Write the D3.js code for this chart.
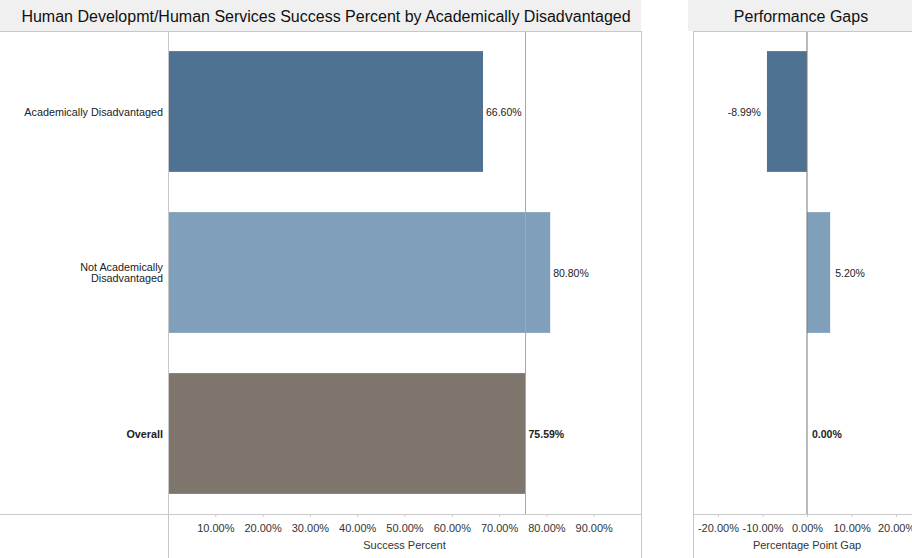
<!DOCTYPE html>
<html>
<head>
<meta charset="utf-8">
<script src="https://cdnjs.cloudflare.com/ajax/libs/d3/7.8.5/d3.min.js"></script>
<style>
  body { margin: 0; background: #fff; }
  svg { display: block; font-family: Arial, "Liberation Sans", sans-serif; }
</style>
</head>
<body>
<div id="chart"></div>
<script>
// data
var categories = ["Academically Disadvantaged", "Not Academically Disadvantaged", "Overall"];
var labelLines = [["Academically Disadvantaged"], ["Not Academically", "Disadvantaged"], ["Overall"]];
var successPct = [0.6660, 0.8080, 0.7559];
var gapPct = [-0.0899, 0.0520, 0.0];
var overallPct = 0.7559;
var successTicks = [0.1, 0.2, 0.3, 0.4, 0.5, 0.6, 0.7, 0.8, 0.9];
var gapTicks = [-0.2, -0.1, 0, 0.1, 0.2];
var barColors = ["#4f7192", "#7f9fba", "#7e756c"];

var W = 912, H = 558;
var plotTop = 31, plotBottom = 514;

var svg = d3.select("#chart").append("svg").attr("width", W).attr("height", H);

var locale = d3.formatLocale({ decimal: ".", thousands: ",", grouping: [3], currency: ["$", ""], minus: "-" });
var fmt = locale.format(".2%");

var y = d3.scaleBand().domain(categories).range([plotTop, plotBottom]).paddingInner(0.25).paddingOuter(0.125);

// ---- left panel ----
var L = { labelW: 168, x1: 641 };
var x = d3.scaleLinear().domain([0, 1]).range([L.labelW, L.x1]);

svg.append("rect").attr("x", 0).attr("y", 0).attr("width", L.x1).attr("height", plotTop).attr("fill", "#f0f0f0");
svg.append("text").attr("x", 326).attr("y", 22).attr("text-anchor", "middle")
  .attr("font-size", 16).attr("fill", "#111")
  .text("Human Developmt/Human Services Success Percent by Academically Disadvantaged");

svg.selectAll(".bar").data(categories).enter().append("rect")
  .attr("x", x(0)).attr("y", function (d) { return y(d); })
  .attr("width", function (d, i) { return x(successPct[i]) - x(0); })
  .attr("height", y.bandwidth())
  .attr("fill", function (d, i) { return barColors[i]; });

// reference line at the overall value
svg.append("line").attr("x1", x(overallPct)).attr("x2", x(overallPct))
  .attr("y1", plotTop).attr("y2", plotBottom).attr("stroke", "#a8a8a8").attr("stroke-width", 1);

svg.selectAll(".val").data(categories).enter().append("text")
  .attr("x", function (d, i) { return x(successPct[i]) + 3; })
  .attr("y", function (d) { return y(d) + y.bandwidth() / 2 + 4; })
  .attr("font-size", 10.5).attr("fill", "#222")
  .attr("font-weight", function (d, i) { return i === 2 ? "bold" : "normal"; })
  .text(function (d, i) { return fmt(successPct[i]); });

labelLines.forEach(function (lines, i) {
  var cy = y(categories[i]) + y.bandwidth() / 2;
  var t = svg.append("text").attr("text-anchor", "end").attr("font-size", 10.8).attr("fill", "#222")
    .attr("font-weight", i === 2 ? "bold" : "normal");
  lines.forEach(function (s, j) {
    t.append("tspan").attr("x", L.labelW - 5)
      .attr("y", cy + 4 + (j - (lines.length - 1) / 2) * 11.5).text(s);
  });
});

var xAxis = svg.append("g").attr("transform", "translate(0," + plotBottom + ")")
  .call(d3.axisBottom(x).tickValues(successTicks).tickFormat(fmt).tickSize(3).tickPadding(7));
xAxis.select(".domain").remove();
xAxis.selectAll("line").attr("stroke", "#ccc");
xAxis.selectAll("text").attr("font-size", 11).attr("fill", "#333").attr("font-family", "Arial, 'Liberation Sans', sans-serif");

svg.append("text").attr("x", (L.labelW + L.x1) / 2).attr("y", 549).attr("text-anchor", "middle")
  .attr("font-size", 11).attr("fill", "#333").text("Success Percent");

// frame lines
svg.append("line").attr("x1", 0).attr("x2", L.x1).attr("y1", plotTop + 0.5).attr("y2", plotTop + 0.5).attr("stroke", "#c8c8c8");
svg.append("line").attr("x1", 0).attr("x2", L.x1).attr("y1", plotBottom + 0.5).attr("y2", plotBottom + 0.5).attr("stroke", "#c8c8c8");
svg.append("line").attr("x1", L.labelW + 0.5).attr("x2", L.labelW + 0.5).attr("y1", plotTop).attr("y2", H).attr("stroke", "#c8c8c8");
svg.append("line").attr("x1", L.x1 + 0.5).attr("x2", L.x1 + 0.5).attr("y1", plotTop).attr("y2", H).attr("stroke", "#c8c8c8");

// ---- right panel ----
var R = { x0: 693, zero: 807 };
var xg = d3.scaleLinear().domain([-0.256, 0.256]).range([R.x0, R.zero + (R.zero - R.x0)]);

svg.append("rect").attr("x", 688).attr("y", 0).attr("width", W - 688).attr("height", plotTop).attr("fill", "#f0f0f0");
svg.append("text").attr("x", 801).attr("y", 22).attr("text-anchor", "middle")
  .attr("font-size", 16).attr("fill", "#111").text("Performance Gaps");

svg.selectAll(".gap").data(categories).enter().append("rect")
  .attr("x", function (d, i) { return xg(Math.min(0, gapPct[i])); })
  .attr("y", function (d) { return y(d); })
  .attr("width", function (d, i) { return Math.abs(xg(gapPct[i]) - xg(0)); })
  .attr("height", y.bandwidth())
  .attr("fill", function (d, i) { return barColors[i]; });

svg.append("line").attr("x1", xg(0)).attr("x2", xg(0)).attr("y1", plotTop).attr("y2", plotBottom)
  .attr("stroke", "#777").attr("stroke-width", 1);

svg.selectAll(".gval").data(categories).enter().append("text")
  .attr("x", function (d, i) { return gapPct[i] < 0 ? xg(gapPct[i]) - 6 : xg(gapPct[i]) + 5; })
  .attr("y", function (d) { return y(d) + y.bandwidth() / 2 + 4; })
  .attr("text-anchor", function (d, i) { return gapPct[i] < 0 ? "end" : "start"; })
  .attr("font-size", 10.5).attr("fill", "#222")
  .attr("font-weight", function (d, i) { return i === 2 ? "bold" : "normal"; })
  .text(function (d, i) { return fmt(gapPct[i]); });

var gAxis = svg.append("g").attr("transform", "translate(0," + plotBottom + ")")
  .call(d3.axisBottom(xg).tickValues(gapTicks).tickFormat(fmt).tickSize(3).tickPadding(7));
gAxis.select(".domain").remove();
gAxis.selectAll("line").attr("stroke", "#ccc");
gAxis.selectAll("text").attr("font-size", 11).attr("fill", "#333").attr("font-family", "Arial, 'Liberation Sans', sans-serif");

svg.append("text").attr("x", xg(0)).attr("y", 549).attr("text-anchor", "middle")
  .attr("font-size", 11).attr("fill", "#333").text("Percentage Point Gap");

svg.append("line").attr("x1", R.x0).attr("x2", W).attr("y1", plotTop + 0.5).attr("y2", plotTop + 0.5).attr("stroke", "#c8c8c8");
svg.append("line").attr("x1", R.x0).attr("x2", W).attr("y1", plotBottom + 0.5).attr("y2", plotBottom + 0.5).attr("stroke", "#c8c8c8");
svg.append("line").attr("x1", R.x0 + 0.5).attr("x2", R.x0 + 0.5).attr("y1", plotTop).attr("y2", H).attr("stroke", "#c8c8c8");
</script>
</body>
</html>
